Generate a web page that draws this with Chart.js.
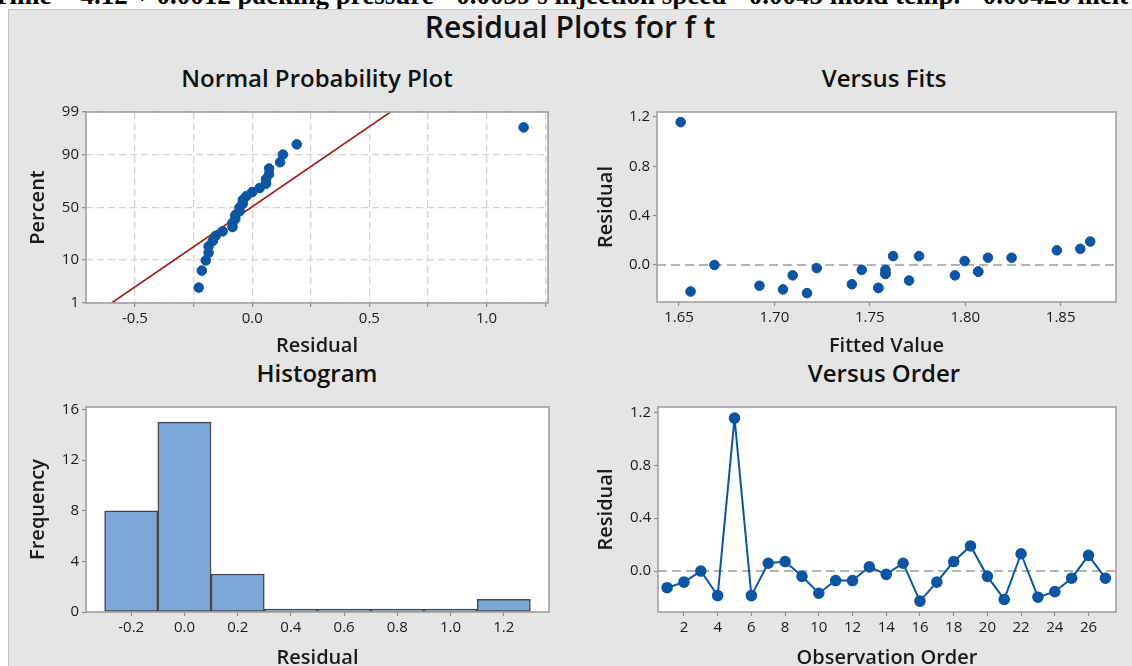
<!DOCTYPE html>
<html>
<head>
<meta charset="utf-8">
<script src="https://cdn.jsdelivr.net/npm/chart.js@4.4.1/dist/chart.umd.min.js"></script>
<style>
body{margin:0;width:1132px;height:666px;overflow:hidden;background:#fff;position:relative;font-family:"Open Sans",sans-serif}
#eq{position:absolute;left:-8px;top:-18px;font:bold 27px "Liberation Serif",serif;line-height:27px;white-space:nowrap;color:#000}
#panel{position:absolute;left:8px;top:9px;right:0;bottom:0;background:#e5e5e5;border-left:1px solid #c4c4c4;border-top:1px solid #c4c4c4}
.t{position:absolute;color:#111;white-space:nowrap;transform:translateX(-50%);font-weight:600}
canvas{position:absolute}
</style>
</head>
<body>
<div id="eq">Time = 4.12 + 0.0012 packing pressure - 0.0039 s injection speed - 0.0045 mold temp. - 0.00428 melt</div>
<div id="panel"></div>
<div class="t" style="left:570px;top:10px;font-size:30px;line-height:34px">Residual Plots for f t</div>
<div class="t" style="left:317px;top:63px;font-size:24px;line-height:30px">Normal Probability Plot</div>
<div class="t" style="left:884px;top:63px;font-size:24px;line-height:30px">Versus Fits</div>
<div class="t" style="left:317px;top:358px;font-size:24px;line-height:30px">Histogram</div>
<div class="t" style="left:884px;top:358px;font-size:24px;line-height:30px">Versus Order</div>

<canvas id="npp" width="540" height="262" style="left:20px;top:100px"></canvas>
<canvas id="fits" width="540" height="262" style="left:590px;top:100px"></canvas>
<canvas id="hist" width="540" height="279" style="left:20px;top:395px"></canvas>
<canvas id="order" width="540" height="279" style="left:590px;top:395px"></canvas>

<script>
// ---- data ----

// residuals in observation order (Versus Order panel)
const residuals = [-0.126, -0.084, 0.000, -0.186, 1.158, -0.186, 0.059, 0.072, -0.040, -0.168,
                   -0.072, -0.072, 0.032, -0.025, 0.059, -0.228, -0.084, 0.072, 0.190, -0.040,
                   -0.215, 0.131, -0.198, -0.156, -0.054, 0.119, -0.054];

// fitted value for each observation (Versus Fits panel)
const fitted = [1.7706, 1.7096, 1.6686, 1.7545, 1.6509, 1.7545, 1.8243, 1.7622, 1.7582, 1.6922,
                1.7582, 1.7582, 1.7997, 1.7222, 1.8119, 1.7171, 1.7946, 1.7758, 1.8655, 1.7458,
                1.6561, 1.8603, 1.7045, 1.7406, 1.8068, 1.8480, 1.8068];

// histogram
const binCenters = [-0.2, 0.0, 0.2, 0.4, 0.6, 0.8, 1.0, 1.2];
const binCounts = [8, 15, 3, 0, 0, 0, 0, 1];

// normal probability plot: percent ticks and fitted line ends
const pctTicks = [1, 10, 50, 90, 99];
const fitLineResidual = [-0.60, 0.59];
const fitLinePct = [1, 99];

// ---- helpers ----
const BLUE = "#0b55a3";
const TXT = "#1a1a1a";
const tickFont = {family: "Open Sans", size: 15};
const titleFont = {family: "Open Sans", size: 20, weight: "600"};

function normInv(p){
    const a=[-39.69683028665376,220.9460984245205,-275.9285104469687,138.357751867269,-30.66479806614716,2.506628277459239];
    const b=[-54.47609879822406,161.5858368580409,-155.6989798598866,66.80131188771972,-13.28068155288572];
    const c=[-0.007784894002430293,-0.3223964580411365,-2.400758277161838,-2.549732539343734,4.374664141464968,2.938163982698783];
    const d=[0.007784695709041462,0.3224671290700398,2.445134137142996,3.754408661907416];
    const pl=0.02425;
    let q,r;
    if(p<pl){
        q=Math.sqrt(-2*Math.log(p));
        return (((((c[0]*q+c[1])*q+c[2])*q+c[3])*q+c[4])*q+c[5])/((((d[0]*q+d[1])*q+d[2])*q+d[3])*q+1);
    }
    if(p>1-pl){
        q=Math.sqrt(-2*Math.log(1-p));
        return -(((((c[0]*q+c[1])*q+c[2])*q+c[3])*q+c[4])*q+c[5])/((((d[0]*q+d[1])*q+d[2])*q+d[3])*q+1);
    }
    q=p-0.5; r=q*q;
    return (((((a[0]*r+a[1])*r+a[2])*r+a[3])*r+a[4])*r+a[5])*q/(((((b[0]*r+b[1])*r+b[2])*r+b[3])*r+b[4])*r+1);
}

function fmt(v, d){
    if(Math.abs(v) < 1e-9) v = 0;
    return v.toFixed(d);
}

// white plot area + grey frame
const frame = {
    id: "frame",
    beforeDraw(chart){
        const {ctx, chartArea: a} = chart;
        ctx.save();
        ctx.fillStyle = "#fff";
        ctx.fillRect(a.left, a.top, a.width, a.height);
        ctx.restore();
    },
    afterDraw(chart){
        const {ctx, chartArea: a} = chart;
        ctx.save();
        ctx.strokeStyle = "#9a9a9a";
        ctx.lineWidth = 1.5;
        ctx.strokeRect(a.left, a.top, a.width, a.height);
        ctx.restore();
    }
};

// dashed reference line at residual = 0
const zeroLine = {
    id: "zeroLine",
    beforeDatasetsDraw(chart){
        const {ctx, chartArea: a, scales} = chart;
        const y = scales.y.getPixelForValue(0);
        ctx.save();
        ctx.strokeStyle = "#9a9a9a";
        ctx.lineWidth = 1.6;
        ctx.setLineDash([9, 5]);
        ctx.beginPath();
        ctx.moveTo(a.left, y);
        ctx.lineTo(a.right, y);
        ctx.stroke();
        ctx.restore();
    }
};

function axis(opts){
    return Object.assign({
        type: "linear",
        offset: false,
        ticks: {color: TXT, font: tickFont, padding: 3, includeBounds: false},
        grid: {drawOnChartArea: false, offset: false, tickLength: 4, tickColor: "#8c8c8c", tickWidth: 1.2},
        border: {display: false}
    }, opts);
}

function title(text){
    return {display: true, text: text, color: TXT, font: titleFont, padding: {top: 4, bottom: 4}};
}

Chart.defaults.animation = false;
Chart.defaults.responsive = false;
Chart.defaults.plugins.legend.display = false;
Chart.defaults.plugins.tooltip.enabled = false;

// =========================================
// Normal Probability Plot
// =========================================

const sorted = residuals.slice().sort((p, q) => p - q);
const n = sorted.length;
const nppPoints = sorted.map((r, i) => ({x: r, y: normInv((i + 1 - 0.3) / (n + 0.4))}));
const zMin = normInv(0.01), zMax = normInv(0.99);

new Chart(document.getElementById("npp"), {
    type: "scatter",
    data: {
        datasets: [
            {
                data: fitLineResidual.map((r, i) => ({x: r, y: normInv(fitLinePct[i] / 100)})),
                showLine: true,
                borderColor: "#a01c1c",
                borderWidth: 1.6,
                pointRadius: 0,
                order: 2
            },
            {
                data: nppPoints,
                backgroundColor: BLUE,
                borderColor: BLUE,
                pointRadius: 4.8,
                order: 1
            }
        ]
    },
    options: {
        layout: {padding: {left: 2, right: 12, top: 10, bottom: 0}},
        scales: {
            x: axis({
                min: -0.709, max: 1.262,
                ticks: {color: TXT, font: tickFont, padding: 3, includeBounds: false, stepSize: 0.25,
                        callback: v => Math.abs(v * 2 - Math.round(v * 2)) < 1e-6 ? fmt(v, 1) : ""},
                grid: {drawOnChartArea: true, color: "#d4d4d4", lineWidth: 1.3, tickLength: 4,
                       tickColor: "#8c8c8c", tickWidth: 1.2, tickBorderDash: []},
                border: {display: false, dash: [7, 4]},
                title: title("Residual"),
                afterFit: s => { s.height = 59; }
            }),
            y: axis({
                min: zMin, max: zMax,
                afterBuildTicks: s => { s.ticks = pctTicks.map(p => ({value: normInv(p / 100)})); },
                ticks: {color: TXT, font: tickFont, padding: 3, callback: (v, i) => String(pctTicks[i])},
                grid: {drawOnChartArea: true, color: "#d4d4d4", lineWidth: 1.3, tickLength: 4,
                       tickColor: "#8c8c8c", tickWidth: 1.2, tickBorderDash: []},
                border: {display: false, dash: [7, 4]},
                title: title("Percent"),
                afterFit: s => { s.width = 64; }
            })
        }
    },
    plugins: [frame]
});

// =========================================
// Versus Fits
// =========================================

new Chart(document.getElementById("fits"), {
    type: "scatter",
    data: {
        datasets: [{
            data: fitted.map((f, i) => ({x: f, y: residuals[i]})),
            backgroundColor: BLUE,
            borderColor: BLUE,
            pointRadius: 4.8
        }]
    },
    options: {
        layout: {padding: {left: 0, right: 14, top: 10, bottom: 0}},
        scales: {
            x: axis({
                min: 1.6385, max: 1.879,
                ticks: {color: TXT, font: tickFont, padding: 3, includeBounds: false, stepSize: 0.05,
                        callback: v => fmt(v, 2)},
                title: title("Fitted Value"),
                afterFit: s => { s.height = 60; }
            }),
            y: axis({
                min: -0.30, max: 1.24,
                ticks: {color: TXT, font: tickFont, padding: 3, includeBounds: false, stepSize: 0.4,
                        callback: v => fmt(v, 1)},
                title: title("Residual"),
                afterFit: s => { s.width = 67; }
            })
        }
    },
    plugins: [frame, zeroLine]
});

// =========================================
// Histogram
// =========================================

new Chart(document.getElementById("hist"), {
    type: "bar",
    data: {
        datasets: [{
            data: binCenters.map((c, i) => ({x: c, y: binCounts[i]})),
            backgroundColor: "#7ba7d9",
            borderColor: "#474747",
            borderWidth: 1.5,
            borderSkipped: false,
            barPercentage: 1,
            categoryPercentage: 1,
            minBarLength: 3
        }]
    },
    options: {
        layout: {padding: {left: 2, right: 11, top: 8, bottom: 0}},
        scales: {
            x: axis({
                min: -0.37, max: 1.37,
                ticks: {color: TXT, font: tickFont, padding: 3, includeBounds: false, stepSize: 0.2,
                        callback: v => fmt(v, 1)},
                title: title("Residual"),
                afterFit: s => { s.height = 62; }
            }),
            y: axis({
                min: 0, max: 16.2,
                ticks: {color: TXT, font: tickFont, padding: 3, includeBounds: false, stepSize: 4},
                title: title("Frequency"),
                afterFit: s => { s.width = 64; }
            })
        }
    },
    plugins: [frame]
});

// =========================================
// Versus Order
// =========================================

new Chart(document.getElementById("order"), {
    type: "scatter",
    data: {
        datasets: [{
            data: residuals.map((r, i) => ({x: i + 1, y: r})),
            showLine: true,
            borderColor: BLUE,
            borderWidth: 2,
            backgroundColor: BLUE,
            pointRadius: 4.8
        }]
    },
    options: {
        layout: {padding: {left: 0, right: 14, top: 8, bottom: 0}},
        scales: {
            x: axis({
                min: 0.46, max: 27.63,
                ticks: {color: TXT, font: tickFont, padding: 3, includeBounds: false, stepSize: 2},
                title: title("Observation Order"),
                afterFit: s => { s.height = 62; }
            }),
            y: axis({
                min: -0.31, max: 1.242,
                ticks: {color: TXT, font: tickFont, padding: 3, includeBounds: false, stepSize: 0.4,
                        callback: v => fmt(v, 1)},
                title: title("Residual"),
                afterFit: s => { s.width = 68; }
            })
        }
    },
    plugins: [frame, zeroLine]
});
</script>
</body>
</html>
